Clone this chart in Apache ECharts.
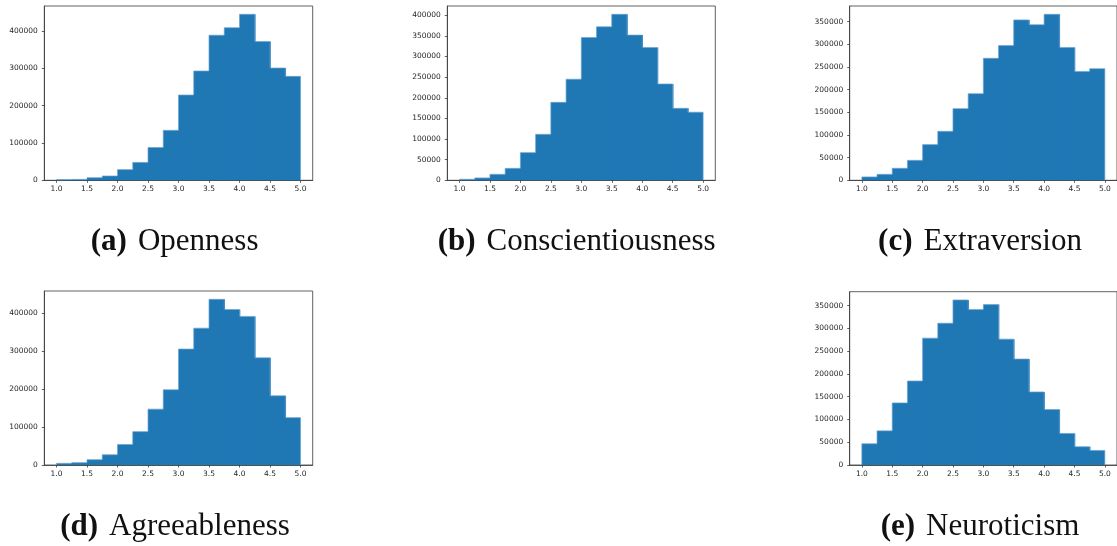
<!DOCTYPE html>
<html>
<head>
<meta charset="utf-8">
<title>Big Five trait score distributions</title>
<script src="https://cdn.jsdelivr.net/npm/echarts@6/dist/echarts.min.js"></script>
<style>
  html, body { margin: 0; padding: 0; background: #ffffff; }
  #chart { width: 1117px; height: 546px; }
</style>
</head>
<body>
<div id="chart"></div>
<script>
// Histogram bin edges (score bins of width 0.25 from 1 to 5)
const binEdges = [1.0, 1.25, 1.5, 1.75, 2.0, 2.25, 2.5, 2.75, 3.0, 3.25, 3.5, 3.75, 4.0, 4.25, 4.5, 4.75, 5.0];
const xTickValues = [1.0, 1.5, 2.0, 2.5, 3.0, 3.5, 4.0, 4.5, 5.0];

// Counts per bin for each trait
const opennessCounts = [2000, 2500, 7000, 11600, 28600, 48000, 88000, 134000, 228600, 293000, 389000, 409000, 445000, 372000, 301000, 278600];
const conscientiousnessCounts = [2400, 5700, 14500, 29000, 67000, 111500, 189000, 245000, 346000, 372000, 402400, 352000, 322000, 233500, 174500, 165000];
const extraversionCounts = [7400, 13200, 26500, 44000, 78700, 108000, 158000, 191000, 269000, 297000, 353700, 343000, 366000, 293000, 240000, 246000];
const agreeablenessCounts = [4400, 6100, 14000, 27000, 54000, 87700, 147000, 198000, 305000, 360000, 436000, 409000, 391000, 282000, 182000, 124600];
const neuroticismCounts = [46700, 75000, 136400, 184500, 278600, 311400, 362500, 341300, 352300, 276400, 232700, 160500, 121800, 69300, 40100, 32000];

// Y tick values
const yTicksStep100k = [0, 100000, 200000, 300000, 400000];
const yTicksStep50k = [0, 50000, 100000, 150000, 200000, 250000, 300000, 350000, 400000];

// Caption text
const panelLabels = ['(a)', '(b)', '(c)', '(d)', '(e)'];
const traitNames = ['Openness', 'Conscientiousness', 'Extraversion', 'Agreeableness', 'Neuroticism'];

// Panel layout (pixel boxes of each plot area and caption anchor)
const layout = [
  { left: 44.3, top: 6, width: 268.4, height: 174.3, capX: 174.6, capY: 242 },
  { left: 447.3, top: 6, width: 268.0, height: 174.3, capX: 576.6, capY: 242 },
  { left: 849.7, top: 6, width: 268.5, height: 174.3, capX: 980.0, capY: 242 },
  { left: 44.3, top: 291, width: 268.4, height: 174.0, capX: 175.0, capY: 527 },
  { left: 849.7, top: 291.7, width: 268.5, height: 173.3, capX: 980.0, capY: 527 }
];

const panelCounts = [opennessCounts, conscientiousnessCounts, extraversionCounts, agreeablenessCounts, neuroticismCounts];
const panelYTicks = [yTicksStep100k, yTicksStep50k, yTicksStep50k, yTicksStep100k, yTicksStep50k];

const BAR_COLOR = '#1f77b4';
const EDGE_COLOR = '#6aa4d2';
const SPINE_COLOR = '#3a3a3a';
const TEXT_COLOR = '#262626';

const grids = [], xAxes = [], yAxes = [], series = [], graphics = [];

// Bar for one bin, with a light outline along the histogram's silhouette only
function makeRenderer(counts) {
  return (params, api) => {
    const k = params.dataIndex;
    const x0 = api.value(0), x1 = api.value(1), c = api.value(2);
    const topLeft = api.coord([x0, c]);
    const bottomRight = api.coord([x1, 0]);
    const prev = k > 0 ? counts[k - 1] : 0;
    const next = k < counts.length - 1 ? counts[k + 1] : 0;
    const yPrev = api.coord([x0, Math.min(prev, c)])[1];
    const yNext = api.coord([x1, Math.min(next, c)])[1];
    // overlap into the next bin slightly so no seam shows between bars
    const overlap = k < counts.length - 1 ? 0.8 : 0;
    const edge = { stroke: EDGE_COLOR, lineWidth: 0.7, fill: null };
    return {
      type: 'group',
      children: [
        { type: 'rect', shape: { x: topLeft[0], y: topLeft[1], width: bottomRight[0] - topLeft[0] + overlap, height: bottomRight[1] - topLeft[1] },
          style: { fill: BAR_COLOR } },
        { type: 'polyline', shape: { points: [[topLeft[0], yPrev], [topLeft[0], topLeft[1]], [bottomRight[0], topLeft[1]], [bottomRight[0], yNext]] },
          style: edge }
      ]
    };
  };
}

panelCounts.forEach((counts, i) => {
  const box = layout[i];
  grids.push({
    left: box.left, top: box.top, width: box.width, height: box.height,
    show: true, borderColor: SPINE_COLOR, borderWidth: 0.8, backgroundColor: 'transparent'
  });
  xAxes.push({
    type: 'value', gridIndex: i, min: 0.8, max: 5.2,
    axisLine: { show: true, lineStyle: { color: SPINE_COLOR, width: 0.8 } },
    axisTick: { show: true, length: 2.5, customValues: xTickValues, lineStyle: { color: SPINE_COLOR, width: 0.8 } },
    axisLabel: {
      customValues: xTickValues, margin: 5, fontSize: 7.5, color: TEXT_COLOR,
      fontFamily: 'DejaVu Sans', formatter: v => v.toFixed(1)
    },
    splitLine: { show: false }
  });
  const yMax = Math.max(...counts) * 1.05;
  yAxes.push({
    type: 'value', gridIndex: i, min: 0, max: yMax,
    axisLine: { show: true, lineStyle: { color: SPINE_COLOR, width: 0.8 } },
    axisTick: { show: true, length: 2.5, customValues: panelYTicks[i], lineStyle: { color: SPINE_COLOR, width: 0.8 } },
    axisLabel: {
      customValues: panelYTicks[i], margin: 6.5, fontSize: 7.5, color: TEXT_COLOR,
      fontFamily: 'DejaVu Sans', formatter: v => String(v)
    },
    splitLine: { show: false }
  });
  const data = counts.map((c, k) => [binEdges[k], binEdges[k + 1], c]);
  series.push({
    type: 'custom', xAxisIndex: i, yAxisIndex: i, data: data,
    encode: { x: [0, 1], y: 2 },
    renderItem: makeRenderer(counts),
    silent: true, animation: false
  });
  graphics.push({
    type: 'text', x: box.capX, y: box.capY,
    style: {
      text: '{lab|' + panelLabels[i] + '}{name|' + traitNames[i] + '}',
      align: 'center', verticalAlign: 'middle',
      rich: {
        lab: { fontFamily: 'Liberation Serif', fontWeight: 'bold', fontSize: 31, fill: '#111', padding: [0, 11, 0, 0] },
        name: { fontFamily: 'Liberation Serif', fontSize: 31, fill: '#111' }
      }
    }
  });
});

const chart = echarts.init(document.getElementById('chart'), null, { renderer: 'canvas' });
chart.setOption({
  animation: false,
  backgroundColor: '#ffffff',
  grid: grids,
  xAxis: xAxes,
  yAxis: yAxes,
  series: series,
  graphic: graphics
});
</script>
</body>
</html>
